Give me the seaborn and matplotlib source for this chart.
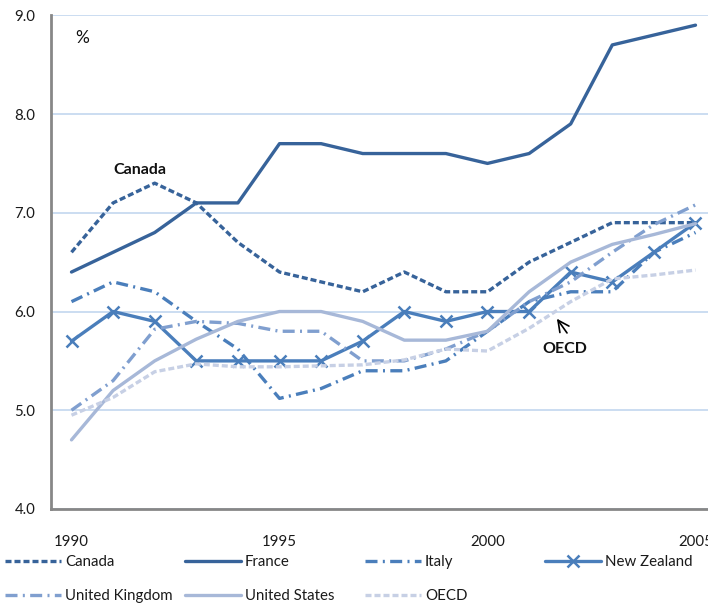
import matplotlib
matplotlib.use("Agg")
import matplotlib.pyplot as plt
import seaborn as sns
import pandas as pd
from matplotlib.lines import Line2D

years = list(range(1990, 2006))
canada = [6.6, 7.1, 7.3, 7.1, 6.7, 6.4, 6.3, 6.2, 6.4, 6.2, 6.2, 6.5, 6.7, 6.9, 6.9, 6.9]
france = [6.4, 6.6, 6.8, 7.1, 7.1, 7.7, 7.7, 7.6, 7.6, 7.6, 7.5, 7.6, 7.9, 8.7, 8.8, 8.9]
italy = [6.1, 6.3, 6.2, 5.9, 5.62, 5.12, 5.22, 5.4, 5.4, 5.5, 5.8, 6.1, 6.2, 6.2, 6.6, 6.8]
new_zealand = [5.7, 6.0, 5.9, 5.5, 5.5, 5.5, 5.5, 5.7, 6.0, 5.9, 6.0, 6.0, 6.4, 6.3, 6.6, 6.9]
united_kingdom = [5.0, 5.3, 5.82, 5.9, 5.88, 5.8, 5.8, 5.5, 5.5, 5.62, 5.8, 6.1, 6.3, 6.6, 6.88, 7.08]
united_states = [4.7, 5.2, 5.5, 5.72, 5.9, 6.0, 6.0, 5.9, 5.71, 5.71, 5.8, 6.2, 6.5, 6.68, 6.78, 6.89]
oecd = [4.95, 5.13, 5.39, 5.47, 5.44, 5.44, 5.45, 5.46, 5.51, 5.62, 5.6, 5.83, 6.1, 6.33, 6.37, 6.42]

series_names = ["Canada", "France", "Italy", "New Zealand", "United Kingdom", "United States", "OECD"]
series_values = [canada, france, italy, new_zealand, united_kingdom, united_states, oecd]
x_tick_labels = ["1990", "1995", "2000", "2005"]
y_ticks = [4.0, 5.0, 6.0, 7.0, 8.0, 9.0]

styles = {
    "Canada": dict(color="#37639A", ls=(0, (1.8, 0.9)), marker=None),
    "France": dict(color="#37639A", ls="-", marker=None),
    "Italy": dict(color="#4A7EBB", ls=(0, (3.6, 1.6, 0.6, 1.6)), marker=None),
    "New Zealand": dict(color="#4A7EBB", ls="-", marker="x"),
    "United Kingdom": dict(color="#809FCF", ls=(0, (3.6, 1.6, 0.6, 1.6)), marker=None),
    "United States": dict(color="#A7B8D8", ls="-", marker=None),
    "OECD": dict(color="#C7D0E5", ls=(0, (1.8, 0.9)), marker=None),
}

sns.set_style("white")
plt.rcParams["font.family"] = ["Lato", "DejaVu Sans"]

fig = plt.figure(figsize=(7.08, 6.04), dpi=100)
ax = fig.add_axes([50.7 / 708, 1 - 509 / 604, (716.3 - 50.7) / 708, (509 - 15.3) / 604])

idx = list(range(len(years)))
lw = 2.4
handles = []
for name, vals in zip(series_names, series_values):
    st = styles[name]
    df = pd.DataFrame({"x": idx, "y": vals})
    sns.lineplot(data=df, x="x", y="y", ax=ax, color=st["color"], linewidth=lw,
                 linestyle=st["ls"], marker=st["marker"], markersize=9,
                 markeredgewidth=1.8, markeredgecolor=st["color"], legend=False,
                 zorder=3)
    handles.append(Line2D([], [], color=st["color"], lw=lw, linestyle=st["ls"],
                          marker=st["marker"], markersize=9, markeredgewidth=1.8))

ax.set_xlim(-0.5, 15.5)
ax.set_ylim(4.0, 9.0)
ax.set_xlabel("")
ax.set_ylabel("")

ax.set_yticks(y_ticks)
ax.set_yticklabels([f"{v:.1f}" for v in y_ticks])
ax.set_xticks([0, 5, 10, 15])
ax.set_xticklabels(x_tick_labels)
ax.set_xticks([i - 0.5 for i in range(17)], minor=True)

ax.yaxis.grid(True, color="#BDD3EE", lw=1.1, zorder=0)
ax.xaxis.grid(False)
for s in ["top", "right"]:
    ax.spines[s].set_visible(False)
for s in ["left", "bottom"]:
    ax.spines[s].set_color("#878787")
    ax.spines[s].set_linewidth(2.0)

ax.tick_params(axis="y", which="major", direction="out", length=5, width=1.5,
               color="#878787", pad=6, labelsize=10.8, labelcolor="#1a1a1a")
ax.tick_params(axis="x", which="major", length=0, pad=19, labelsize=10.8, labelcolor="#1a1a1a")
ax.tick_params(axis="x", which="minor", direction="out", length=5, width=1.5, color="#878787")

ax.text(0.25, 8.77, "%", ha="center", va="center", fontsize=12.5, color="#111111")
ax.text(1.64, 7.43, "Canada", ha="center", va="center", fontsize=11.5, fontweight="bold", color="#111111")
ax.text(11.86, 5.62, "OECD", ha="center", va="center", fontsize=11.5, fontweight="bold", color="#111111")
ax.annotate("", xy=(11.63, 5.95), xytext=(11.95, 5.76),
            arrowprops=dict(arrowstyle="->", color="black", lw=1.2, mutation_scale=20))

# legend, two rows
positions = [(5, 562), (185, 562), (365, 562), (545, 562),
             (5, 596), (185, 596), (365, 596)]
for h, name, (px, py) in zip(handles, series_names, positions):
    fig.legend(handles=[h], labels=[name], loc="center left",
               bbox_to_anchor=(px / 708, 1 - py / 604), frameon=False,
               handlelength=3.7, handletextpad=0.3, borderpad=0, borderaxespad=0,
               fontsize=10.8, labelcolor="#1a1a1a")

fig.savefig("out.png", dpi=100)
